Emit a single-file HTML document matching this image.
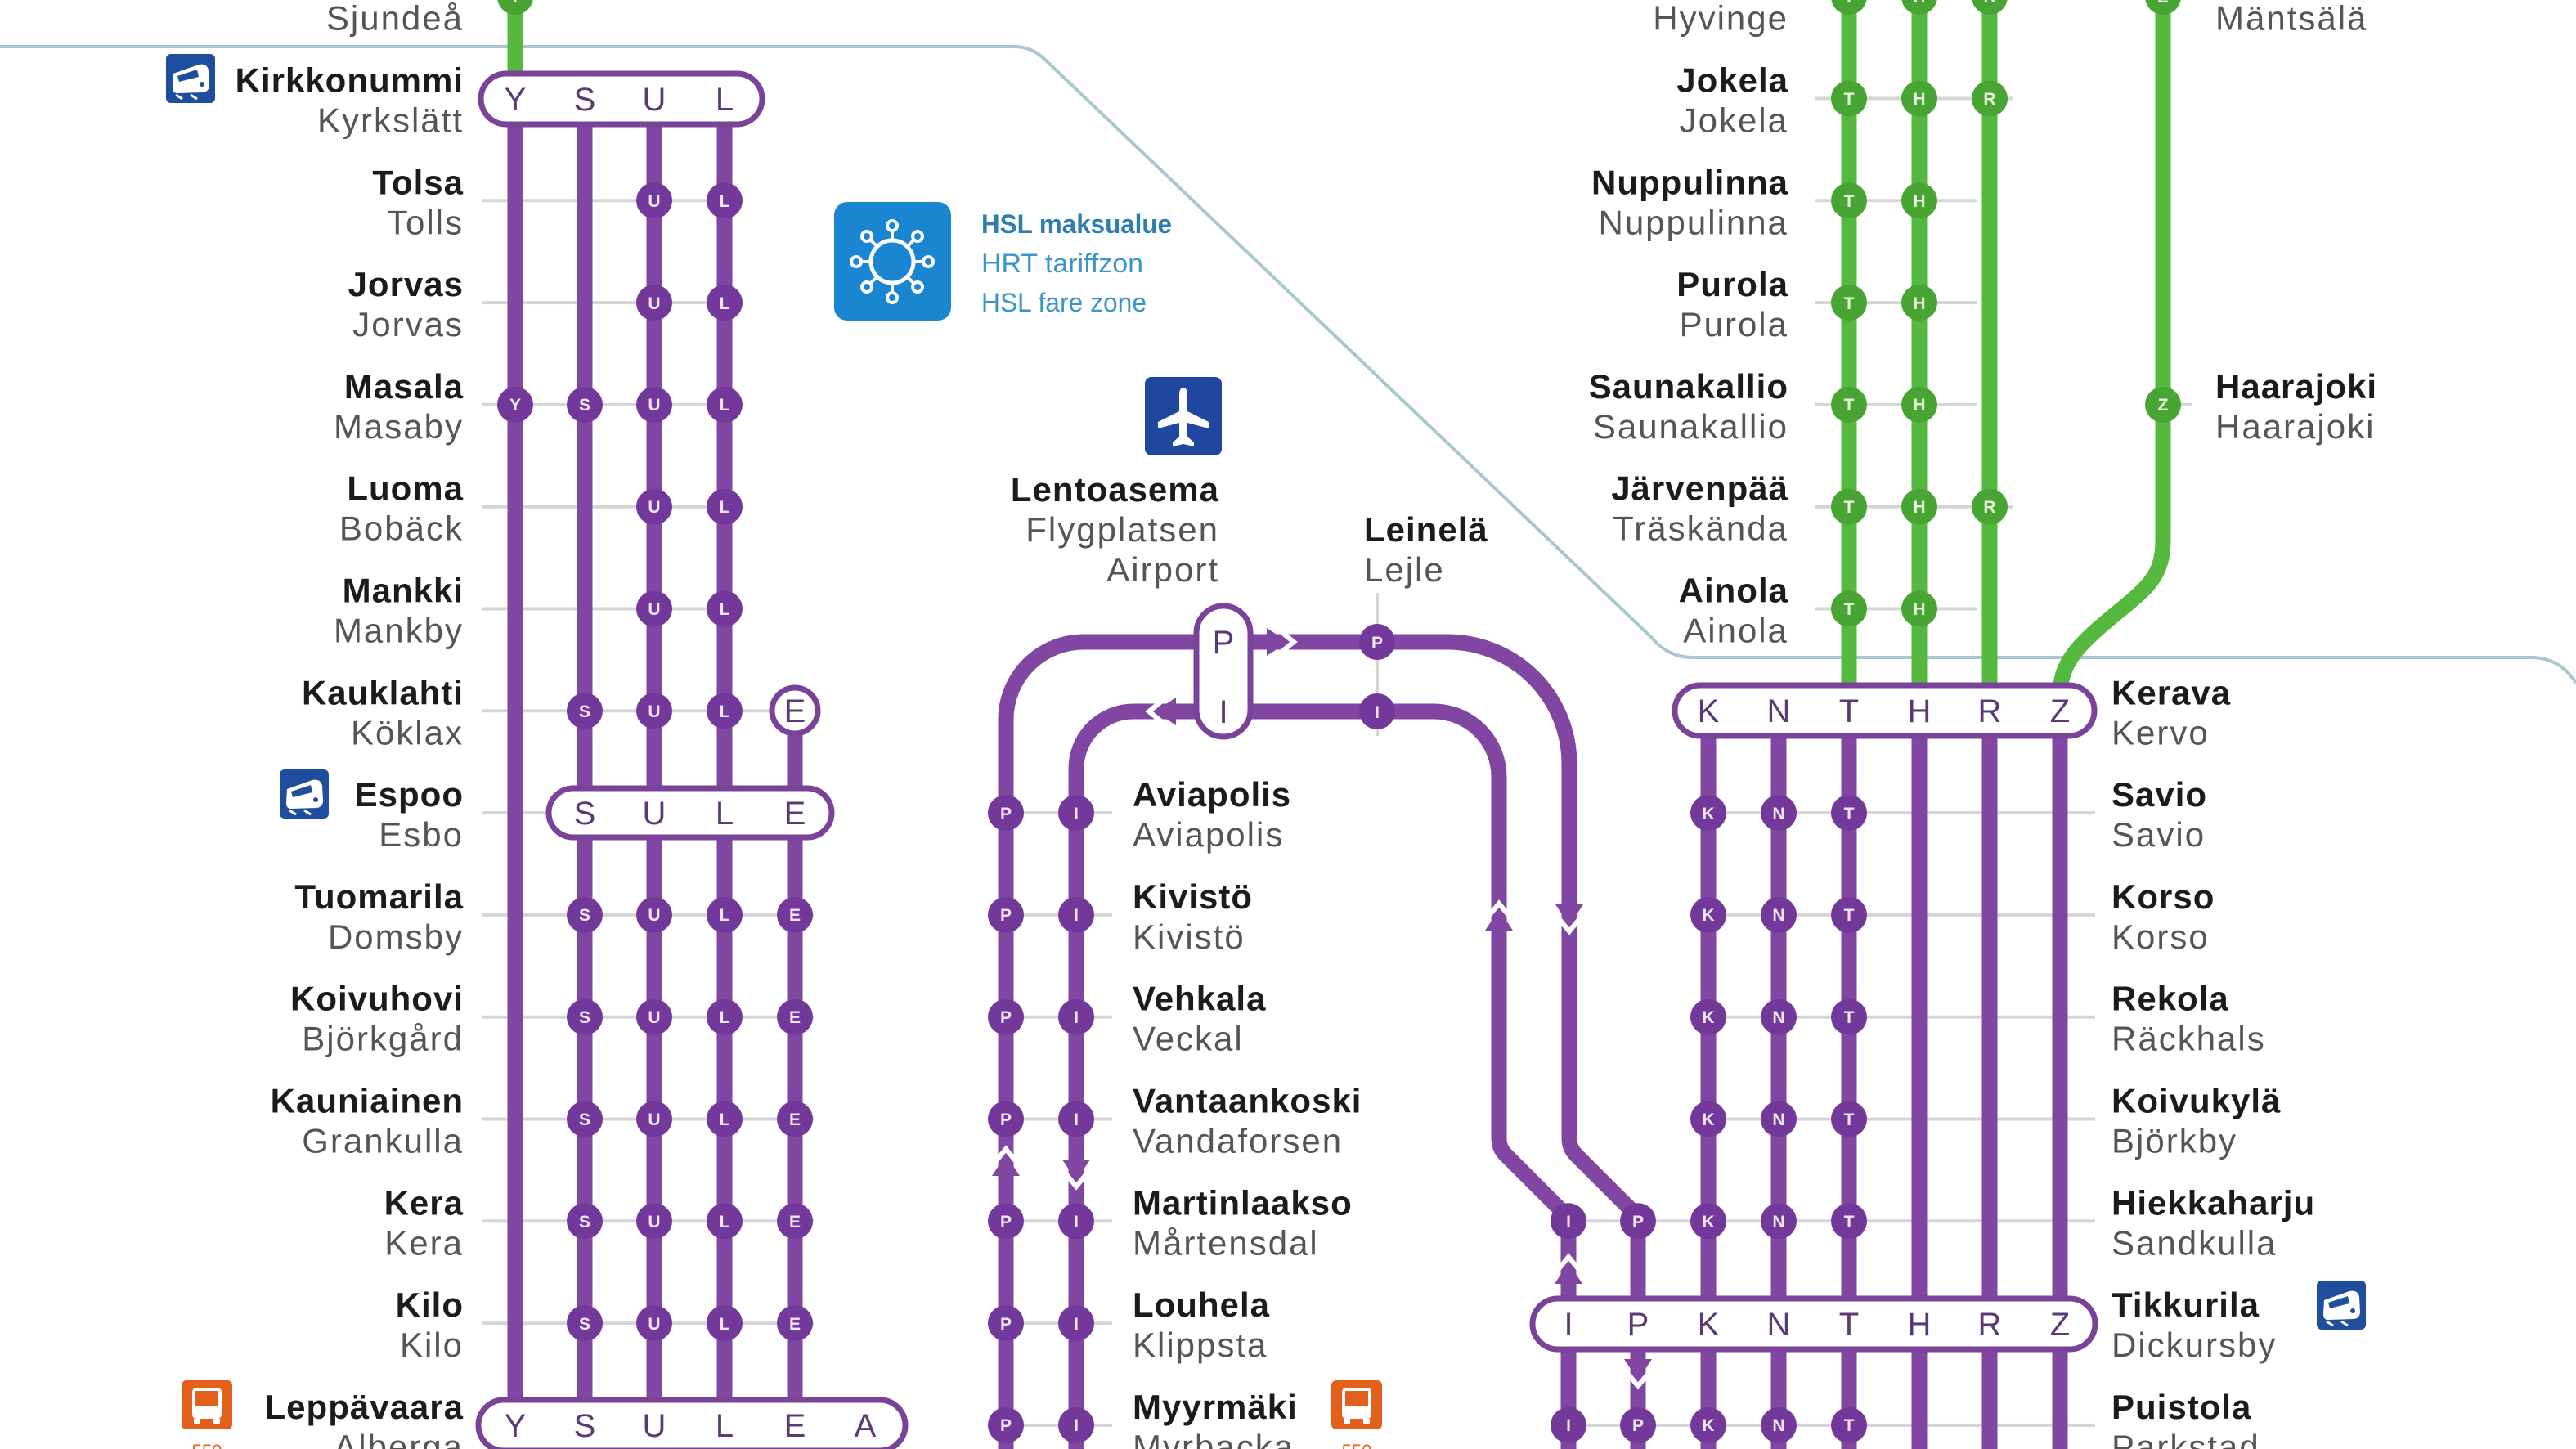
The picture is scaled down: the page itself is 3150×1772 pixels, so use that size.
<!DOCTYPE html>
<html><head><meta charset="utf-8"><style>
html,body{margin:0;padding:0;background:#fff;width:3150px;height:1772px;overflow:hidden}
svg{display:block}
.b{font-family:"Liberation Sans",sans-serif;font-weight:bold;font-size:42px;fill:#1b1b1b;letter-spacing:1px}
.r{font-family:"Liberation Sans",sans-serif;font-size:42px;fill:#555;letter-spacing:2px}
.pl{font-family:"Liberation Sans",sans-serif;font-size:40px;fill:#5b3a74;text-anchor:middle}
.cl{font-family:"Liberation Sans",sans-serif;font-weight:bold;font-size:21px;fill:#f6e4fb;text-anchor:middle}
.gl{font-family:"Liberation Sans",sans-serif;font-weight:bold;font-size:21px;fill:#e6f8dc;text-anchor:middle}
.e{text-anchor:end}
</style></head><body>
<svg width="3150" height="1772" viewBox="0 0 3150 1772" xmlns="http://www.w3.org/2000/svg">
<!-- zone line -->
<path d="M0,57 L1240,57 Q1262,57 1278,73 L2020,780 Q2040,804 2070,804 L3095,804 Q3130,804 3150,835" fill="none" stroke="#a9c7d1" stroke-width="4"/>

<!-- gray ticks -->
<g stroke="#d5d5d5" stroke-width="4">
<line x1="590" y1="-4" x2="650" y2="-4"/>
<line x1="590" y1="245.3" x2="909" y2="245.3"/>
<line x1="590" y1="370.1" x2="909" y2="370.1"/>
<line x1="590" y1="494.9" x2="909" y2="494.9"/>
<line x1="590" y1="619.7" x2="909" y2="619.7"/>
<line x1="590" y1="744.5" x2="909" y2="744.5"/>
<line x1="590" y1="869.3" x2="944" y2="869.3"/>
<line x1="590" y1="994.1" x2="671" y2="994.1"/>
<line x1="590" y1="1118.9" x2="995" y2="1118.9"/>
<line x1="590" y1="1243.7" x2="995" y2="1243.7"/>
<line x1="590" y1="1368.5" x2="995" y2="1368.5"/>
<line x1="590" y1="1493.3" x2="995" y2="1493.3"/>
<line x1="590" y1="1618.1" x2="995" y2="1618.1"/>
<line x1="1210" y1="994.1" x2="1360" y2="994.1"/>
<line x1="1210" y1="1118.9" x2="1360" y2="1118.9"/>
<line x1="1210" y1="1243.7" x2="1360" y2="1243.7"/>
<line x1="1210" y1="1368.5" x2="1360" y2="1368.5"/>
<line x1="1210" y1="1493.3" x2="1360" y2="1493.3"/>
<line x1="1210" y1="1618.1" x2="1360" y2="1618.1"/>
<line x1="1210" y1="1742.9" x2="1360" y2="1742.9"/>
<line x1="1684" y1="725" x2="1684" y2="900"/>
<line x1="2089" y1="994.1" x2="2562" y2="994.1"/>
<line x1="2089" y1="1118.9" x2="2562" y2="1118.9"/>
<line x1="2089" y1="1243.7" x2="2562" y2="1243.7"/>
<line x1="2089" y1="1368.5" x2="2562" y2="1368.5"/>
<line x1="1918" y1="1493.3" x2="2562" y2="1493.3"/>
<line x1="1918" y1="1742.9" x2="2562" y2="1742.9"/>
<line x1="2219" y1="-4" x2="2462" y2="-4"/>
<line x1="2219" y1="120.5" x2="2462" y2="120.5"/>
<line x1="2219" y1="245.3" x2="2418" y2="245.3"/>
<line x1="2219" y1="370.1" x2="2418" y2="370.1"/>
<line x1="2219" y1="494.9" x2="2418" y2="494.9"/>
<line x1="2219" y1="619.7" x2="2462" y2="619.7"/>
<line x1="2219" y1="744.5" x2="2418" y2="744.5"/>
<line x1="2645" y1="494.9" x2="2680" y2="494.9"/>
<line x1="2645" y1="-4" x2="2680" y2="-4"/>
</g>

<!-- green lines -->
<g stroke="#55b83f" stroke-width="19" fill="none">
<line x1="630" y1="0" x2="630" y2="95"/>
<line x1="2261" y1="0" x2="2261" y2="845"/>
<line x1="2347" y1="0" x2="2347" y2="845"/>
<line x1="2433" y1="0" x2="2433" y2="845"/>
<path d="M2645,0 L2645,660 C2645,700 2630,715 2600,740 C2545,785 2522,805 2519,845"/>
</g>

<!-- purple lines -->
<g stroke="#8046a2" stroke-width="19" fill="none">
<line x1="630" y1="121" x2="630" y2="1743"/>
<line x1="715" y1="121" x2="715" y2="1743"/>
<line x1="800" y1="121" x2="800" y2="1743"/>
<line x1="886" y1="121" x2="886" y2="1743"/>
<line x1="972" y1="869" x2="972" y2="1743"/>
<line x1="2089" y1="869" x2="2089" y2="1772"/>
<line x1="2175" y1="869" x2="2175" y2="1772"/>
<line x1="2261" y1="869" x2="2261" y2="1772"/>
<line x1="2347" y1="869" x2="2347" y2="1772"/>
<line x1="2433" y1="869" x2="2433" y2="1772"/>
<line x1="2519" y1="869" x2="2519" y2="1772"/>
<path d="M1230,1772 L1230,880 A95,95 0 0 1 1325,785 L1770,785 A149,149 0 0 1 1919,934 L1919,1392 Q1919,1404 1927,1412 L1995,1480 Q2003,1488 2003,1500 L2003,1772"/>
<path d="M1316,1772 L1316,940 A70,70 0 0 1 1386,870 L1753,870 A80,80 0 0 1 1833,950 L1833,1392 Q1833,1404 1841,1412 L1910,1481 Q1918,1489 1918,1501 L1918,1772"/>
</g>

<!-- arrows -->
<defs>
<g id="arw"><polygon points="-26,-17 0,0 -26,17" fill="#8046a2"/><polyline points="-20,-22 7,0 -20,22" fill="none" stroke="#fff" stroke-width="6"/></g>
</defs>
<use href="#arw" transform="translate(1575,785)"/>
<use href="#arw" transform="translate(1412,870) rotate(180)"/>
<use href="#arw" transform="translate(1230,1412) rotate(-90)"/>
<use href="#arw" transform="translate(1316,1444) rotate(90)"/>
<use href="#arw" transform="translate(1833,1112) rotate(-90)"/>
<use href="#arw" transform="translate(1919,1132) rotate(90)"/>
<use href="#arw" transform="translate(1918,1544) rotate(-90)"/>
<use href="#arw" transform="translate(2003,1688) rotate(90)"/>

<!-- pills -->
<g fill="#fff" stroke="#7a4399" stroke-width="7">
<rect x="588" y="90" width="344" height="62" rx="31"/>
<rect x="671" y="964" width="346" height="60" rx="30"/>
<rect x="585" y="1712" width="522" height="62" rx="31"/>
<rect x="2048" y="838" width="513" height="62" rx="31"/>
<rect x="1874" y="1588" width="688" height="62" rx="31"/>
<rect x="1463" y="741" width="66" height="160" rx="33"/>
<circle cx="972" cy="869" r="28"/>
</g>
<g class="pl">
<text x="630" y="135">Y</text><text x="715" y="135">S</text><text x="800" y="135">U</text><text x="886" y="135">L</text>
<text x="715" y="1008">S</text><text x="800" y="1008">U</text><text x="886" y="1008">L</text><text x="972" y="1008">E</text>
<text x="972" y="883">E</text>
<text x="630" y="1757">Y</text><text x="715" y="1757">S</text><text x="800" y="1757">U</text><text x="886" y="1757">L</text><text x="972" y="1757">E</text><text x="1058" y="1757">A</text>
<text x="2089" y="883">K</text><text x="2175" y="883">N</text><text x="2261" y="883">T</text><text x="2347" y="883">H</text><text x="2433" y="883">R</text><text x="2519" y="883">Z</text>
<text x="1918" y="1633">I</text><text x="2003" y="1633">P</text><text x="2089" y="1633">K</text><text x="2175" y="1633">N</text><text x="2261" y="1633">T</text><text x="2347" y="1633">H</text><text x="2433" y="1633">R</text><text x="2519" y="1633">Z</text>
<text x="1496" y="799">P</text><text x="1496" y="884">I</text>
</g>

<!-- purple stop circles -->
<defs><circle id="pc" r="22" fill="#73399a"/><circle id="gc" r="22" fill="#48a534"/></defs>
<g>
<use href="#pc" x="800" y="245.3"/><use href="#pc" x="886" y="245.3"/>
<use href="#pc" x="800" y="370.1"/><use href="#pc" x="886" y="370.1"/>
<use href="#pc" x="630" y="494.9"/><use href="#pc" x="715" y="494.9"/><use href="#pc" x="800" y="494.9"/><use href="#pc" x="886" y="494.9"/>
<use href="#pc" x="800" y="619.7"/><use href="#pc" x="886" y="619.7"/>
<use href="#pc" x="800" y="744.5"/><use href="#pc" x="886" y="744.5"/>
<use href="#pc" x="715" y="869.3"/><use href="#pc" x="800" y="869.3"/><use href="#pc" x="886" y="869.3"/>
<use href="#pc" x="715" y="1118.9"/><use href="#pc" x="800" y="1118.9"/><use href="#pc" x="886" y="1118.9"/><use href="#pc" x="972" y="1118.9"/>
<use href="#pc" x="715" y="1243.7"/><use href="#pc" x="800" y="1243.7"/><use href="#pc" x="886" y="1243.7"/><use href="#pc" x="972" y="1243.7"/>
<use href="#pc" x="715" y="1368.5"/><use href="#pc" x="800" y="1368.5"/><use href="#pc" x="886" y="1368.5"/><use href="#pc" x="972" y="1368.5"/>
<use href="#pc" x="715" y="1493.3"/><use href="#pc" x="800" y="1493.3"/><use href="#pc" x="886" y="1493.3"/><use href="#pc" x="972" y="1493.3"/>
<use href="#pc" x="715" y="1618.1"/><use href="#pc" x="800" y="1618.1"/><use href="#pc" x="886" y="1618.1"/><use href="#pc" x="972" y="1618.1"/>
<use href="#pc" x="1230" y="994.1"/><use href="#pc" x="1316" y="994.1"/>
<use href="#pc" x="1230" y="1118.9"/><use href="#pc" x="1316" y="1118.9"/>
<use href="#pc" x="1230" y="1243.7"/><use href="#pc" x="1316" y="1243.7"/>
<use href="#pc" x="1230" y="1368.5"/><use href="#pc" x="1316" y="1368.5"/>
<use href="#pc" x="1230" y="1493.3"/><use href="#pc" x="1316" y="1493.3"/>
<use href="#pc" x="1230" y="1618.1"/><use href="#pc" x="1316" y="1618.1"/>
<use href="#pc" x="1230" y="1742.9"/><use href="#pc" x="1316" y="1742.9"/>
<use href="#pc" x="1684" y="785"/><use href="#pc" x="1684" y="870"/>
<use href="#pc" x="2089" y="994.1"/><use href="#pc" x="2175" y="994.1"/><use href="#pc" x="2261" y="994.1"/>
<use href="#pc" x="2089" y="1118.9"/><use href="#pc" x="2175" y="1118.9"/><use href="#pc" x="2261" y="1118.9"/>
<use href="#pc" x="2089" y="1243.7"/><use href="#pc" x="2175" y="1243.7"/><use href="#pc" x="2261" y="1243.7"/>
<use href="#pc" x="2089" y="1368.5"/><use href="#pc" x="2175" y="1368.5"/><use href="#pc" x="2261" y="1368.5"/>
<use href="#pc" x="1918" y="1493.3"/><use href="#pc" x="2003" y="1493.3"/><use href="#pc" x="2089" y="1493.3"/><use href="#pc" x="2175" y="1493.3"/><use href="#pc" x="2261" y="1493.3"/>
<use href="#pc" x="1918" y="1742.9"/><use href="#pc" x="2003" y="1742.9"/><use href="#pc" x="2089" y="1742.9"/><use href="#pc" x="2175" y="1742.9"/><use href="#pc" x="2261" y="1742.9"/>
</g>
<g class="cl">
<text x="800" y="253">U</text><text x="886" y="253">L</text>
<text x="800" y="378">U</text><text x="886" y="378">L</text>
<text x="630" y="502">Y</text><text x="715" y="502">S</text><text x="800" y="502">U</text><text x="886" y="502">L</text>
<text x="800" y="627">U</text><text x="886" y="627">L</text>
<text x="800" y="752">U</text><text x="886" y="752">L</text>
<text x="715" y="877">S</text><text x="800" y="877">U</text><text x="886" y="877">L</text>
<text x="715" y="1126">S</text><text x="800" y="1126">U</text><text x="886" y="1126">L</text><text x="972" y="1126">E</text>
<text x="715" y="1251">S</text><text x="800" y="1251">U</text><text x="886" y="1251">L</text><text x="972" y="1251">E</text>
<text x="715" y="1376">S</text><text x="800" y="1376">U</text><text x="886" y="1376">L</text><text x="972" y="1376">E</text>
<text x="715" y="1501">S</text><text x="800" y="1501">U</text><text x="886" y="1501">L</text><text x="972" y="1501">E</text>
<text x="715" y="1626">S</text><text x="800" y="1626">U</text><text x="886" y="1626">L</text><text x="972" y="1626">E</text>
<text x="1230" y="1002">P</text><text x="1316" y="1002">I</text>
<text x="1230" y="1126">P</text><text x="1316" y="1126">I</text>
<text x="1230" y="1251">P</text><text x="1316" y="1251">I</text>
<text x="1230" y="1376">P</text><text x="1316" y="1376">I</text>
<text x="1230" y="1501">P</text><text x="1316" y="1501">I</text>
<text x="1230" y="1626">P</text><text x="1316" y="1626">I</text>
<text x="1230" y="1750">P</text><text x="1316" y="1750">I</text>
<text x="1684" y="793">P</text><text x="1684" y="878">I</text>
<text x="2089" y="1002">K</text><text x="2175" y="1002">N</text><text x="2261" y="1002">T</text>
<text x="2089" y="1126">K</text><text x="2175" y="1126">N</text><text x="2261" y="1126">T</text>
<text x="2089" y="1251">K</text><text x="2175" y="1251">N</text><text x="2261" y="1251">T</text>
<text x="2089" y="1376">K</text><text x="2175" y="1376">N</text><text x="2261" y="1376">T</text>
<text x="1918" y="1501">I</text><text x="2003" y="1501">P</text><text x="2089" y="1501">K</text><text x="2175" y="1501">N</text><text x="2261" y="1501">T</text>
<text x="1918" y="1750">I</text><text x="2003" y="1750">P</text><text x="2089" y="1750">K</text><text x="2175" y="1750">N</text><text x="2261" y="1750">T</text>
</g>

<!-- green stop circles -->
<g>
<use href="#gc" x="630" y="-4"/>
<use href="#gc" x="2261" y="-4"/><use href="#gc" x="2347" y="-4"/><use href="#gc" x="2433" y="-4"/><use href="#gc" x="2645" y="-4"/>
<use href="#gc" x="2261" y="120.5"/><use href="#gc" x="2347" y="120.5"/><use href="#gc" x="2433" y="120.5"/>
<use href="#gc" x="2261" y="245.3"/><use href="#gc" x="2347" y="245.3"/>
<use href="#gc" x="2261" y="370.1"/><use href="#gc" x="2347" y="370.1"/>
<use href="#gc" x="2261" y="494.9"/><use href="#gc" x="2347" y="494.9"/><use href="#gc" x="2645" y="494.9"/>
<use href="#gc" x="2261" y="619.7"/><use href="#gc" x="2347" y="619.7"/><use href="#gc" x="2433" y="619.7"/>
<use href="#gc" x="2261" y="744.5"/><use href="#gc" x="2347" y="744.5"/>
</g>
<g class="gl">
<text x="630" y="3">Y</text>
<text x="2261" y="3">T</text><text x="2347" y="3">H</text><text x="2433" y="3">R</text><text x="2645" y="3">Z</text>
<text x="2261" y="128">T</text><text x="2347" y="128">H</text><text x="2433" y="128">R</text>
<text x="2261" y="253">T</text><text x="2347" y="253">H</text>
<text x="2261" y="378">T</text><text x="2347" y="378">H</text>
<text x="2261" y="502">T</text><text x="2347" y="502">H</text><text x="2645" y="502">Z</text>
<text x="2261" y="627">T</text><text x="2347" y="627">H</text><text x="2433" y="627">R</text>
<text x="2261" y="752">T</text><text x="2347" y="752">H</text>
</g>

<!-- left labels -->
<g class="e">
<text class="r e" x="567" y="36.7">Sjundeå</text>
<text class="b e" x="567" y="112.5">Kirkkonummi</text><text class="r e" x="567" y="161.5">Kyrkslätt</text>
<text class="b e" x="567" y="237.3">Tolsa</text><text class="r e" x="567" y="286.3">Tolls</text>
<text class="b e" x="567" y="362.1">Jorvas</text><text class="r e" x="567" y="411.1">Jorvas</text>
<text class="b e" x="567" y="486.9">Masala</text><text class="r e" x="567" y="535.9">Masaby</text>
<text class="b e" x="567" y="611.7">Luoma</text><text class="r e" x="567" y="660.7">Bobäck</text>
<text class="b e" x="567" y="736.5">Mankki</text><text class="r e" x="567" y="785.5">Mankby</text>
<text class="b e" x="567" y="861.3">Kauklahti</text><text class="r e" x="567" y="910.3">Köklax</text>
<text class="b e" x="567" y="986.1">Espoo</text><text class="r e" x="567" y="1035.1">Esbo</text>
<text class="b e" x="567" y="1110.9">Tuomarila</text><text class="r e" x="567" y="1159.9">Domsby</text>
<text class="b e" x="567" y="1235.7">Koivuhovi</text><text class="r e" x="567" y="1284.7">Björkgård</text>
<text class="b e" x="567" y="1360.5">Kauniainen</text><text class="r e" x="567" y="1409.5">Grankulla</text>
<text class="b e" x="567" y="1485.3">Kera</text><text class="r e" x="567" y="1534.3">Kera</text>
<text class="b e" x="567" y="1610.1">Kilo</text><text class="r e" x="567" y="1659.1">Kilo</text>
<text class="b e" x="567" y="1734.9">Leppävaara</text><text class="r e" x="567" y="1783.9">Alberga</text>
</g>

<!-- green right labels -->
<text class="r e" x="2187" y="36.7">Hyvinge</text>
<text class="b e" x="2187" y="112.5">Jokela</text><text class="r e" x="2187" y="161.5">Jokela</text>
<text class="b e" x="2187" y="237.3">Nuppulinna</text><text class="r e" x="2187" y="286.3">Nuppulinna</text>
<text class="b e" x="2187" y="362.1">Purola</text><text class="r e" x="2187" y="411.1">Purola</text>
<text class="b e" x="2187" y="486.9">Saunakallio</text><text class="r e" x="2187" y="535.9">Saunakallio</text>
<text class="b e" x="2187" y="611.7">Järvenpää</text><text class="r e" x="2187" y="660.7">Träskända</text>
<text class="b e" x="2187" y="736.5">Ainola</text><text class="r e" x="2187" y="785.5">Ainola</text>
<text class="r" x="2709" y="36.7">Mäntsälä</text>
<text class="b" x="2709" y="486.9">Haarajoki</text><text class="r" x="2709" y="535.9">Haarajoki</text>

<!-- purple right labels -->
<text class="b" x="2582" y="861.3">Kerava</text><text class="r" x="2582" y="910.3">Kervo</text>
<text class="b" x="2582" y="986.1">Savio</text><text class="r" x="2582" y="1035.1">Savio</text>
<text class="b" x="2582" y="1110.9">Korso</text><text class="r" x="2582" y="1159.9">Korso</text>
<text class="b" x="2582" y="1235.7">Rekola</text><text class="r" x="2582" y="1284.7">Räckhals</text>
<text class="b" x="2582" y="1360.5">Koivukylä</text><text class="r" x="2582" y="1409.5">Björkby</text>
<text class="b" x="2582" y="1485.3">Hiekkaharju</text><text class="r" x="2582" y="1534.3">Sandkulla</text>
<text class="b" x="2582" y="1610.1">Tikkurila</text><text class="r" x="2582" y="1659.1">Dickursby</text>
<text class="b" x="2582" y="1734.9">Puistola</text><text class="r" x="2582" y="1783.9">Parkstad</text>

<!-- middle labels -->
<text class="b" x="1385" y="986.1">Aviapolis</text><text class="r" x="1385" y="1035.1">Aviapolis</text>
<text class="b" x="1385" y="1110.9">Kivistö</text><text class="r" x="1385" y="1159.9">Kivistö</text>
<text class="b" x="1385" y="1235.7">Vehkala</text><text class="r" x="1385" y="1284.7">Veckal</text>
<text class="b" x="1385" y="1360.5">Vantaankoski</text><text class="r" x="1385" y="1409.5">Vandaforsen</text>
<text class="b" x="1385" y="1485.3">Martinlaakso</text><text class="r" x="1385" y="1534.3">Mårtensdal</text>
<text class="b" x="1385" y="1610.1">Louhela</text><text class="r" x="1385" y="1659.1">Klippsta</text>
<text class="b" x="1385" y="1734.9">Myyrmäki</text><text class="r" x="1385" y="1783.9">Myrbacka</text>
<text class="b e" x="1491" y="613">Lentoasema</text>
<text class="r e" x="1491" y="662">Flygplatsen</text>
<text class="r e" x="1491" y="711">Airport</text>
<text class="b" x="1668" y="662">Leinelä</text>
<text class="r" x="1668" y="711">Lejle</text>

<!-- HSL zone legend -->
<rect x="1020" y="247" width="143" height="145" rx="16" fill="#1a86d2"/>
<g stroke="#fff" fill="none" stroke-width="5">
<circle cx="1091" cy="320" r="26"/>
<g stroke-width="4">
<line x1="1091" y1="294" x2="1091" y2="282"/><circle cx="1091" cy="276" r="6"/>
<line x1="1091" y1="346" x2="1091" y2="358"/><circle cx="1091" cy="364" r="6"/>
<line x1="1065" y1="320" x2="1053" y2="320"/><circle cx="1047" cy="320" r="6"/>
<line x1="1117" y1="320" x2="1129" y2="320"/><circle cx="1135" cy="320" r="6"/>
<line x1="1109" y1="302" x2="1118" y2="293"/><circle cx="1122" cy="289" r="6"/>
<line x1="1073" y1="302" x2="1064" y2="293"/><circle cx="1060" cy="289" r="6"/>
<line x1="1109" y1="338" x2="1118" y2="347"/><circle cx="1122" cy="351" r="6"/>
<line x1="1073" y1="338" x2="1064" y2="347"/><circle cx="1060" cy="351" r="6"/>
</g></g>
<g font-family="'Liberation Sans Narrow','Liberation Sans',sans-serif" font-size="32">
<text x="1200" y="285" fill="#2c7db0" font-weight="bold" textLength="233" lengthAdjust="spacingAndGlyphs">HSL maksualue</text>
<text x="1200" y="333" fill="#3a95c9" textLength="198" lengthAdjust="spacingAndGlyphs">HRT tariffzon</text>
<text x="1200" y="381" fill="#3a95c9" textLength="202" lengthAdjust="spacingAndGlyphs">HSL fare zone</text>
</g>

<!-- airplane icon -->
<rect x="1400" y="461" width="94" height="96" rx="8" fill="#1f47a0"/>
<path d="M1447,474 Q1452,474 1452,484 L1452,503 L1478,516 L1478,524 L1452,517 L1452,534 L1460,541 L1460,546 L1447,543 L1434,546 L1434,541 L1442,534 L1442,517 L1416,524 L1416,516 L1442,503 L1442,484 Q1442,474 1447,474 Z" fill="#fff"/>

<!-- train icons -->
<defs>
<g id="train">
<rect x="0" y="0" width="60" height="60" rx="6" fill="#1f4e9e"/>
<path d="M9,24 L40,13 Q50,11 52,20 L53,38 Q53,46 45,47 L14,48 Q8,48 8,41 Z" fill="#fff"/>
<path d="M14,27 L38,19 L40,28 L16,34 Z" fill="#1f4e9e"/>
<circle cx="44" cy="37" r="3" fill="#1f4e9e"/>
<path d="M12,50 L20,55 M30,50 L38,55" stroke="#fff" stroke-width="3"/>
</g>
<g id="bus">
<rect x="0" y="0" width="62" height="60" rx="6" fill="#e35f1c"/>
<rect x="13" y="9" width="36" height="38" rx="5" fill="#fff"/>
<rect x="17" y="13" width="28" height="18" fill="#e35f1c"/>
<rect x="15" y="47" width="8" height="6" fill="#fff"/><rect x="39" y="47" width="8" height="6" fill="#fff"/>
</g>
</defs>
<use href="#train" x="203" y="66"/>
<use href="#train" x="342" y="941"/>
<use href="#train" x="2833" y="1566"/>
<use href="#bus" x="222" y="1688"/>
<use href="#bus" x="1628" y="1688"/>
<text x="253" y="1782" font-family="'Liberation Sans',sans-serif" font-size="22" fill="#e35f1c" text-anchor="middle">550</text>
<text x="1659" y="1782" font-family="'Liberation Sans',sans-serif" font-size="22" fill="#e35f1c" text-anchor="middle">550</text>
</svg>
</body></html>
